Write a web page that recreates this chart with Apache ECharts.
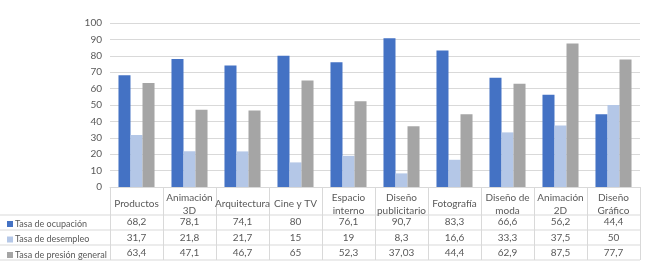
<!DOCTYPE html>
<html>
<head>
<meta charset="utf-8">
<script src="https://cdn.jsdelivr.net/npm/echarts@6/dist/echarts.min.js"></script>
<style>
  html, body { margin: 0; padding: 0; background: #fff; }
  #chart { width: 654px; height: 270px; }
</style>
</head>
<body>
<div id="chart"></div>
<script>
// categorías (cabecera de la tabla)
const categories = [
  "Productos", "Animación\n3D", "Arquitectura", "Cine y TV", "Espacio\ninterno",
  "Diseño\npublicitario", "Fotografía", "Diseño de\nmoda", "Animación\n2D", "Diseño\nGráfico"
];
const seriesNames = ["Tasa de ocupación", "Tasa de desempleo", "Tasa de presión general"];
const ocupacion = [68.2, 78.1, 74.1, 80, 76.1, 90.7, 83.3, 66.6, 56.2, 44.4];
const desempleo = [31.7, 21.8, 21.7, 15, 19, 8.3, 16.6, 33.3, 37.5, 50];
const presion = [63.4, 47.1, 46.7, 65, 52.3, 37.03, 44.4, 62.9, 87.5, 77.7];
const colors = ["#4472C4", "#B4C7E7", "#A5A5A5"];

const rows = [ocupacion, desempleo, presion];
const fmt = v => String(v).replace(".", ",");

const gridLeft = 110, gridRight = 14, gridTop = 23, axisY = 187;
const rowLines = [215, 230, 245, 260];
const textColor = "#595959";
const lineColor = "#D9D9D9";
const font = "Lato";

const chartDom = document.getElementById("chart");
const myChart = echarts.init(chartDom);

// ejes extra: una fila de la tabla por serie
const rowAxes = rows.map((vals, i) => ({
  type: "category",
  position: "bottom",
  data: vals.map(fmt),
  axisLine: { show: false },
  axisTick: { show: false },
  axisLabel: {
    interval: 0,
    margin: [35, 51, 66][i],
    verticalAlign: "middle",
    color: textColor,
    fontSize: 10,
    fontFamily: font,
  },
}));

const option = {
  animation: false,
  color: colors,
  grid: { left: gridLeft, right: gridRight, top: gridTop, bottom: 270 - axisY },
  legend: {
    data: seriesNames,
    orient: "vertical",
    left: 2,
    top: 213,
    icon: "rect",
    itemWidth: 6,
    itemHeight: 6,
    itemGap: 3.5,
    textStyle: { color: textColor, fontSize: 9, fontFamily: font, lineHeight: 12, padding: [0, 0, 0, -3] },
    selectedMode: false,
  },
  xAxis: [
    {
      type: "category",
      data: categories,
      axisLine: { lineStyle: { color: lineColor } },
      axisTick: { show: true, length: rowLines[3] - axisY, lineStyle: { color: lineColor } },
      axisLabel: {
        interval: 0,
        margin: 17,
        verticalAlign: "middle",
        color: textColor,
        fontSize: 10,
        fontFamily: font,
        lineHeight: 13,
      },
    },
    ...rowAxes,
  ],
  yAxis: {
    type: "value",
    min: 0,
    max: 100,
    interval: 10,
    axisLine: { show: false },
    axisTick: { show: false },
    axisLabel: { color: textColor, fontSize: 10, fontFamily: font, margin: 8 },
    splitLine: { lineStyle: { color: lineColor } },
  },
  graphic: rowLines.map(y => ({
    type: "line",
    shape: { x1: 0, y1: y, x2: 654 - gridRight, y2: y },
    style: { stroke: lineColor, lineWidth: 1 },
    silent: true,
  })),
  series: rows.map((vals, i) => ({
    name: seriesNames[i],
    type: "bar",
    xAxisIndex: 0,
    data: vals,
    barGap: "0%",
    barCategoryGap: "32%",
  })),
};

myChart.setOption(option);
</script>
</body>
</html>
